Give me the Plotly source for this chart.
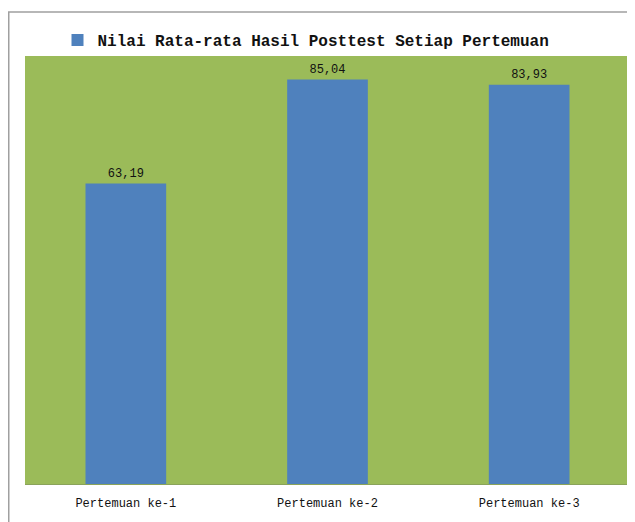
import plotly.graph_objects as go

categories = ["Pertemuan ke-1", "Pertemuan ke-2", "Pertemuan ke-3"]
values = [63.19, 85.04, 83.93]
series_name = "Nilai Rata-rata Hasil Posttest Setiap Pertemuan"

labels = [f"{v:.2f}".replace(".", ",") for v in values]

# page body has an 8px margin, so the figure is laid out 8px up/left
W, H = 627, 514
L, R, T, B = 17, 5, 48, 38
pw = W - L - R
ph = H - T - B

fig = go.Figure()
fig.add_trace(go.Bar(
    x=categories, y=values, name=series_name,
    marker=dict(color="#4F81BD", line=dict(width=0)),
    text=labels, textposition="outside", cliponaxis=False,
    textfont=dict(family="Liberation Mono, DejaVu Sans Mono, monospace", size=12, color="#111111"),
    showlegend=True,
))

fig.update_layout(
    width=W, height=H,
    margin=dict(l=L, r=R, t=T, b=B),
    paper_bgcolor="white",
    plot_bgcolor="#9BBB59",
    bargap=0.6,
    showlegend=True,
    legend=dict(
        orientation="h", x=(298 - L) / pw, xanchor="center",
        y=(H - B - 32) / ph, yanchor="middle",
        font=dict(family="Liberation Mono, DejaVu Sans Mono, monospace", size=16, color="#111111", weight="bold"),
        itemsizing="constant", itemwidth=30, bgcolor="rgba(0,0,0,0)",
    ),
    xaxis=dict(
        showgrid=False, zeroline=False, showline=True, linecolor="#8aa35a", linewidth=1,
        ticks="", ticklabelstandoff=8,
        tickfont=dict(family="Liberation Mono, DejaVu Sans Mono, monospace", size=12, color="#111111"),
    ),
    yaxis=dict(range=[0, 90], visible=False, showgrid=False, zeroline=False),
    shapes=[dict(
        type="rect", xref="paper", yref="paper",
        x0=(0.75 - L) / pw, x1=(645 - L) / pw,
        y0=(H - B - 535) / ph, y1=(H - B - 4) / ph,
        line=dict(color="#a0a0a0", width=1.5), fillcolor="rgba(0,0,0,0)", layer="below",
    )],
)

fig.write_html("out.html")
